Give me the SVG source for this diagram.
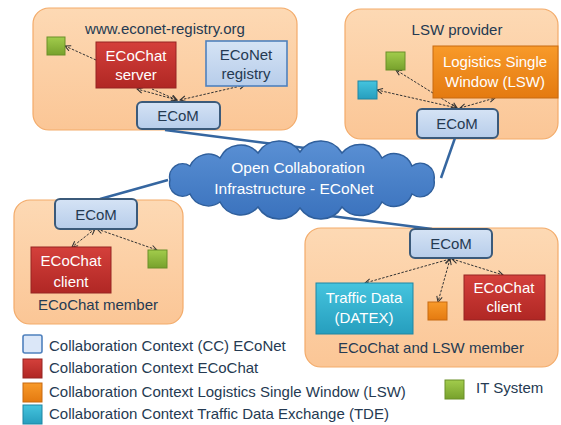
<svg xmlns="http://www.w3.org/2000/svg" width="561" height="425" viewBox="0 0 561 425">
<defs>
<linearGradient id="gGroup" x1="0" y1="0" x2="0" y2="1"><stop offset="0" stop-color="#fdd9b4"/><stop offset="1" stop-color="#fbc696"/></linearGradient>
<linearGradient id="gBlue" x1="0" y1="0" x2="0" y2="1"><stop offset="0" stop-color="#d5e3f5"/><stop offset="1" stop-color="#b7cdea"/></linearGradient>
<linearGradient id="gRed" x1="0" y1="0" x2="0" y2="1"><stop offset="0" stop-color="#d4403b"/><stop offset="1" stop-color="#b02724"/></linearGradient>
<linearGradient id="gOrange" x1="0" y1="0" x2="0" y2="1"><stop offset="0" stop-color="#f89a2a"/><stop offset="1" stop-color="#e47a10"/></linearGradient>
<linearGradient id="gCyan" x1="0" y1="0" x2="0" y2="1"><stop offset="0" stop-color="#45c4de"/><stop offset="1" stop-color="#269ebe"/></linearGradient>
<linearGradient id="gGreen" x1="0" y1="0" x2="0" y2="1"><stop offset="0" stop-color="#a2cc4c"/><stop offset="1" stop-color="#77a12c"/></linearGradient>
<linearGradient id="gCloud" x1="0" y1="0" x2="0" y2="1"><stop offset="0" stop-color="#5a90d4"/><stop offset="1" stop-color="#3a72bd"/></linearGradient>
<marker id="ah" viewBox="0 0 10 10" refX="9" refY="5" markerWidth="7" markerHeight="7" orient="auto-start-reverse" markerUnits="userSpaceOnUse">
<path d="M1,1 L9,5 L1,9" fill="none" stroke="#333" stroke-width="1.5"/>
</marker>
</defs>
<style>
text{font-family:"Liberation Sans",Arial,sans-serif;font-size:15px;fill:#253a52}
.w{fill:#ffffff}
.c{text-anchor:middle}
.grp{fill:url(#gGroup);stroke:#f3ab6a;stroke-width:1.2}
.ecom{fill:url(#gBlue);stroke:#3b5a7a;stroke-width:2}
.reg{fill:url(#gBlue);stroke:#4f81bd;stroke-width:1.6}
.red{fill:url(#gRed);stroke:#962522;stroke-width:1}
.org{fill:url(#gOrange);stroke:#c86a10;stroke-width:1}
.cyn{fill:url(#gCyan);stroke:#1f86a3;stroke-width:1}
.grn{fill:url(#gGreen);stroke:#6a8f28;stroke-width:1}
.link{stroke:#3566a0;stroke-width:2.5;fill:none}
.dash{stroke:#333;stroke-width:1;stroke-dasharray:2.5 1.5;fill:none}
.ab{marker-start:url(#ah);marker-end:url(#ah)}
.ae{marker-end:url(#ah)}
</style>
<rect width="561" height="425" fill="#ffffff"/>

<g id="group-registry"><rect class="grp" x="33" y="8" width="264" height="122" rx="16"/><text class="c" x="165" y="34">www.econet-registry.org</text></g>
<g id="group-lsw-provider"><rect class="grp" x="345" y="9" width="213" height="130" rx="16"/><text class="c" x="457" y="35">LSW provider</text></g>
<g id="group-ecochat-member"><rect class="grp" x="14" y="200" width="169" height="124" rx="16"/><text class="c" x="98" y="310">ECoChat member</text></g>
<g id="group-ecochat-lsw-member"><rect class="grp" x="305" y="228" width="253" height="139" rx="16"/><text class="c" x="431" y="353">ECoChat and LSW  member</text></g>

<g id="connectors">
<line class="link" x1="165" y1="130" x2="305" y2="148"/>
<line class="link" x1="455" y1="138" x2="441" y2="178"/>
<line class="link" x1="100" y1="199" x2="168" y2="180"/>
<line class="link" x1="323" y1="215" x2="432" y2="229"/>
<line class="dash ae" x1="96" y1="60" x2="65" y2="46"/>
<line class="dash ab" x1="177" y1="100" x2="137" y2="89"/>
<line class="dash ae" x1="152" y1="89" x2="177" y2="100"/>
<line class="dash ab" x1="180" y1="100" x2="245" y2="85"/>
<line class="dash ab" x1="457" y1="108" x2="396" y2="70"/>
<line class="dash ab" x1="457" y1="108" x2="377" y2="90"/>
<line class="dash ab" x1="460" y1="108" x2="495" y2="98"/>
<line class="dash ab" x1="95" y1="229" x2="72" y2="247"/>
<line class="dash ab" x1="97" y1="229" x2="157" y2="250"/>
<line class="dash ab" x1="450" y1="259" x2="365" y2="283"/>
<line class="dash ab" x1="450" y1="259" x2="438" y2="302"/>
<line class="dash ab" x1="452" y1="259" x2="503" y2="275"/>
</g>

<g id="cloud">
<path fill="url(#gCloud)" stroke="#2f5f9c" stroke-width="1.5" d="M170,180 A13,13 0 0 1 190,166 A20,20 0 0 1 220,158 A23,23 0 0 1 258,153 A25,25 0 0 1 300,152 A25,25 0 0 1 342,153 A24,24 0 0 1 382,158 A19,19 0 0 1 412,166 A14,14 0 0 1 434,180 A14,14 0 0 1 412,194 A19,19 0 0 1 382,202 A24,24 0 0 1 342,207 A25,25 0 0 1 300,208 A25,25 0 0 1 258,207 A23,23 0 0 1 220,202 A20,20 0 0 1 190,194 A13,13 0 0 1 170,180 Z"/>
<text class="c w" x="298" y="173" style="font-size:15.5px">Open Collaboration</text>
<text class="c w" x="294" y="194" style="font-size:15.5px">Infrastructure - ECoNet</text>
</g>

<g id="it-system-registry"><rect class="grn" x="47" y="37" width="18" height="18"/></g>
<g id="ecochat-server"><rect class="red" x="96" y="42" width="80" height="46"/><text class="c w" x="136" y="61">ECoChat</text><text class="c w" x="136" y="80">server</text></g>
<g id="econet-registry"><rect class="reg" x="206" y="41" width="81" height="45"/><text class="c" x="246" y="60">ECoNet</text><text class="c" x="246" y="79">registry</text></g>
<g id="ecom-registry"><rect class="ecom" x="137" y="102" width="83" height="27" rx="5"/><text class="c" x="178" y="121">ECoM</text></g>

<g id="it-system-lsw"><rect class="grn" x="386" y="52" width="19" height="18"/></g>
<g id="tde-system-lsw"><rect class="cyn" x="358" y="81" width="19" height="18"/></g>
<g id="lsw"><rect class="org" x="433" y="46" width="125" height="52"/><text class="c w" x="495" y="67">Logistics Single</text><text class="c w" x="495" y="87">Window (LSW)</text></g>
<g id="ecom-lsw"><rect class="ecom" x="417" y="109" width="81" height="29" rx="5"/><text class="c" x="457" y="129">ECoM</text></g>

<g id="ecom-member"><rect class="ecom" x="55" y="199" width="82" height="30" rx="5"/><text class="c" x="96" y="220">ECoM</text></g>
<g id="ecochat-client-member"><rect class="red" x="31" y="247" width="80" height="46"/><text class="c w" x="71" y="266">ECoChat</text><text class="c w" x="71" y="287">client</text></g>
<g id="it-system-member"><rect class="grn" x="148" y="250" width="19" height="18"/></g>

<g id="ecom-lsw-member"><rect class="ecom" x="410" y="229" width="82" height="29" rx="5"/><text class="c" x="451" y="249">ECoM</text></g>
<g id="traffic-data"><rect class="cyn" x="316" y="283" width="97" height="51"/><text class="c w" x="364" y="303">Traffic Data</text><text class="c w" x="364" y="323">(DATEX)</text></g>
<g id="lsw-system-member"><rect class="org" x="428" y="302" width="19" height="18"/></g>
<g id="ecochat-client-lsw-member"><rect class="red" x="464" y="275" width="81" height="45"/><text class="c w" x="504" y="293">ECoChat</text><text class="c w" x="504" y="312">client</text></g>

<g id="legend">
<rect class="reg" x="23" y="335" width="19" height="18" rx="2" style="fill:#dbe7f8"/><text x="49" y="351">Collaboration Context (CC) ECoNet</text>
<rect class="red" x="23" y="359" width="19" height="19"/><text x="49" y="373">Collaboration Context ECoChat</text>
<rect class="org" x="23" y="383" width="19" height="19"/><text x="49" y="397">Collaboration Context Logistics Single Window (LSW)</text>
<rect class="cyn" x="23" y="405" width="19" height="19"/><text x="49" y="419">Collaboration Context Traffic Data Exchange (TDE)</text>
<rect class="grn" x="445" y="380" width="19" height="19"/><text x="476" y="393">IT System</text>
</g>
</svg>
